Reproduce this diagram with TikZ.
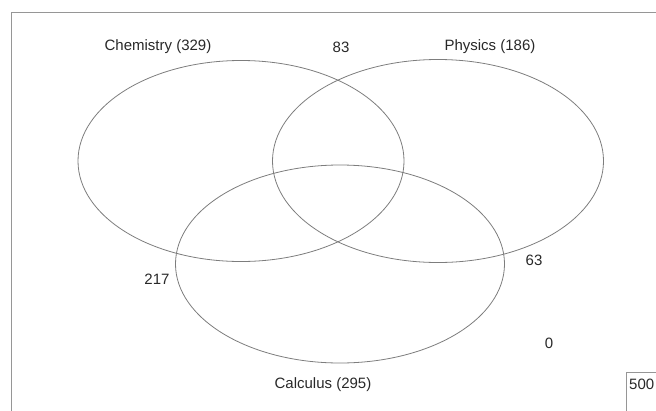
\documentclass[tikz,border=0pt]{standalone}
\usepackage{fontspec}
\setmainfont{Liberation Sans}
\usetikzlibrary{shapes.geometric}
\definecolor{edgegrey}{RGB}{125,125,125}
\definecolor{framegrey}{RGB}{150,150,150}
\definecolor{txt}{RGB}{40,40,40}
\tikzset{
  setell/.style={draw=edgegrey, line width=0.8pt, ellipse, inner sep=0pt, outer sep=0pt},
  lbl/.style={text=txt, font=\fontsize{15}{15}\selectfont, inner sep=0pt},
}
\begin{document}
\begin{tikzpicture}[x=1pt,y=-1pt]
\useasboundingbox (0,0) rectangle (656,410);
\draw[framegrey, line width=0.8pt] (11,430) -- (11,12) -- (680,12);
\node[setell, minimum width=326pt, minimum height=201pt] (chem) at (241,161) {};
\node[setell, minimum width=331pt, minimum height=203pt] (phys) at (438,161) {};
\node[setell, minimum width=329pt, minimum height=198pt] (calc) at (340,264) {};
\node[lbl] (lchem) at (158,47) {Chemistry (329)};
\node[lbl] (l83) at (341,47) {83};
\node[lbl] (lphys) at (490,47) {Physics (186)};
\node[lbl] (l217) at (157,279) {217};
\node[lbl] (l63) at (534,260) {63};
\node[lbl] (l0) at (549,343) {0};
\node[lbl] (lcalc) at (323,385) {Calculus (295)};
\draw[framegrey, line width=0.8pt] (626,430) -- (626,372) -- (680,372);
\node[lbl, anchor=west] (l500) at (629,384) {500};
\end{tikzpicture}
\end{document}
